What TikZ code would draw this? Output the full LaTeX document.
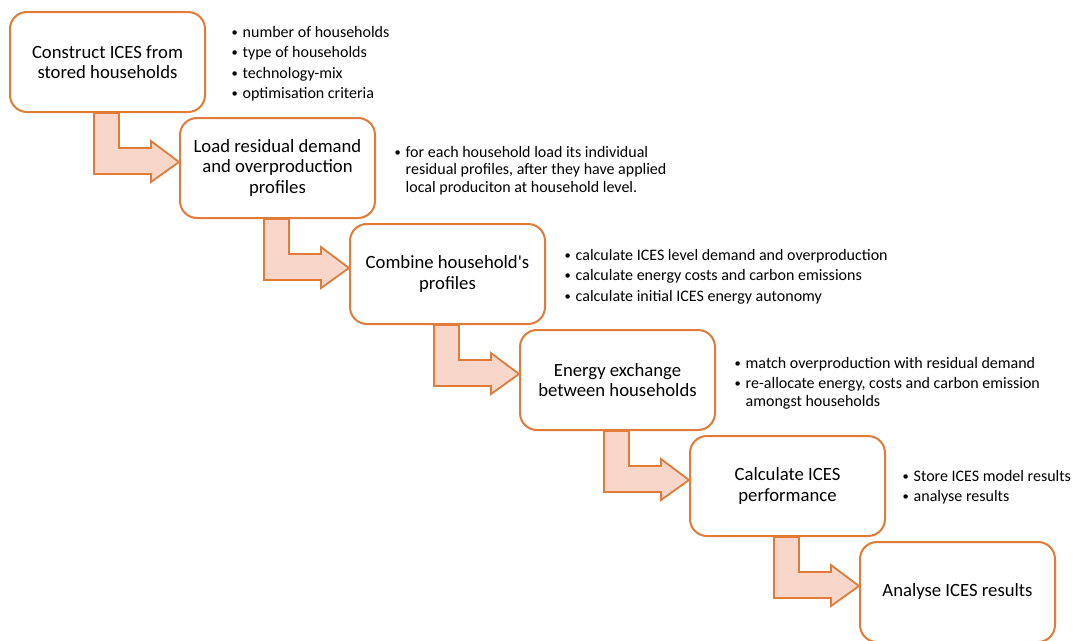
\documentclass[tikz,border=0pt]{standalone}
\usepackage{fontspec}
\setmainfont{Carlito}
\usetikzlibrary{calc}
\definecolor{orng}{HTML}{E07B39}
\definecolor{peach}{HTML}{F8D7CA}
\newcommand\bitem{\makebox[11pt][l]{\raisebox{0.6pt}{\fontsize{12.5}{12.5}\selectfont\textbullet}}}
\newcommand\bcont{\hspace*{11pt}}
\newenvironment{blist}{\begin{tabular}[t]{@{}l@{}}}{\end{tabular}}
\begin{document}
\begin{tikzpicture}[x=1pt,y=-1pt,
  box/.style={draw=orng, line width=2pt, rounded corners=17pt, fill=white,
    minimum width=195pt, minimum height=100pt, align=center, inner sep=0pt,
    font=\fontsize{18.7}{20.5}\selectfont},
  barrow/.style={draw=orng, line width=1.8pt, fill=peach, line join=miter},
  notes/.style={anchor=base west, inner sep=0pt,
    font=\fontsize{16}{17.5}\selectfont}]
\useasboundingbox (0,0) rectangle (1073,640);
\clip (0,0) rectangle (1073,640);
\fill[white] (0,0) rectangle (1073,640);
\node[box] (b1) at (107.5,62) {Construct ICES from\\stored households};
\node[box] (b2) at (277.5,168) {Load residual demand\\and overproduction\\profiles};
\node[box] (b3) at (447.5,274) {Combine household\textquotesingle s\\profiles};
\node[box] (b4) at (617.5,380) {Energy exchange\\between households};
\node[box] (b5) at (787.5,486) {Calculate ICES\\performance};
\node[box] (b6) at (957.5,592) {Analyse ICES results};
\foreach \a/\b in {b1/b2,b2/b3,b3/b4,b4/b5,b5/b6}{
  \draw[barrow] ($(\a.south west)+(85,0)$) -- ($(\b.north west)+(-85,57)$)
    -- ($(\b.north west)+(-28,57)$) -- ($(\b.north west)+(-28,65)$)
    -- ($(\b.north west)+(0,45)$) -- ($(\b.north west)+(-28,24)$)
    -- ($(\b.north west)+(-28,31)$) -- ($(\b.north west)+(-60,31)$)
    -- ($(\a.south west)+(110,0)$) -- cycle;
}
\node[notes] (n1) at (231.5,37) {\begin{blist}\bitem number of households\\[3pt]\bitem type of households\\[3pt]\bitem technology-mix\\[3pt]\bitem optimisation criteria\end{blist}};
\node[notes] (n2) at (394.5,157) {\begin{blist}\bitem for each household load its individual\\\bcont residual profiles, after they have applied\\\bcont local produciton at household level.\end{blist}};
\node[notes] (n3) at (564.5,260) {\begin{blist}\bitem calculate ICES level demand and overproduction\\[3pt]\bitem calculate energy costs and carbon emissions\\[3pt]\bitem calculate initial ICES energy autonomy\end{blist}};
\node[notes] (n4) at (734.5,368) {\begin{blist}\bitem match overproduction with residual demand\\[3pt]\bitem re-allocate energy, costs and carbon emission\\\bcont amongst households\end{blist}};
\node[notes] (n5) at (902.5,481) {\begin{blist}\bitem Store ICES model results\\[3pt]\bitem analyse results\end{blist}};
\end{tikzpicture}
\end{document}
